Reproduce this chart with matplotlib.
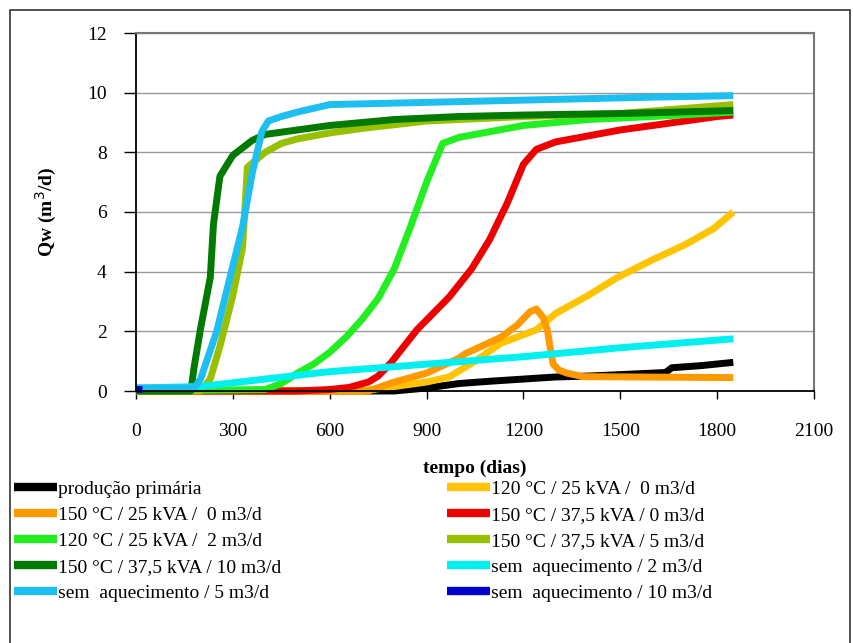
"""Qw vs tempo for heating scenarios."""

import matplotlib.pyplot as plt
from matplotlib.lines import Line2D
from matplotlib.patches import Rectangle

plt.rcParams["font.family"] = ["Liberation Serif", "DejaVu Serif"]

# %% data
t_prim = [0, 800, 850, 900, 1000, 1100, 1200, 1300, 1400, 1500, 1600, 1640, 1660, 1750, 1850]
q_prim = [0, 0, 0.05, 0.1, 0.25, 0.33, 0.4, 0.47, 0.5, 0.55, 0.6, 0.62, 0.78, 0.85, 0.96]

t_120_25_0 = [0, 700, 800, 900, 970, 1050, 1130, 1240, 1300, 1400, 1490, 1600, 1700, 1790, 1850]
q_120_25_0 = [0, 0, 0.15, 0.3, 0.47, 1.0, 1.6, 2.05, 2.6, 3.2, 3.8, 4.4, 4.9, 5.45, 6.0]

t_150_25_0 = [0, 720, 800, 900, 1000, 1020, 1130, 1180, 1220, 1240, 1262, 1275, 1282, 1292, 1310, 1335, 1385, 1850]
q_150_25_0 = [0, 0, 0.3, 0.6, 1.1, 1.25, 1.8, 2.2, 2.65, 2.75, 2.45, 2.0, 1.5, 0.9, 0.7, 0.6, 0.48, 0.45]

t_150_375_0 = [0, 500, 600, 660, 720, 750, 790, 870, 970, 1040, 1095, 1150, 1200, 1240, 1300, 1400, 1500, 1600, 1700, 1800, 1850]
q_150_375_0 = [0, 0, 0.05, 0.12, 0.3, 0.5, 0.95, 2.05, 3.15, 4.1, 5.07, 6.3, 7.6, 8.1, 8.35, 8.55, 8.75, 8.9, 9.05, 9.2, 9.25]

t_120_25_2 = [0, 400, 450, 500, 550, 600, 650, 700, 750, 800, 850, 900, 950, 1000, 1100, 1200, 1300, 1400, 1600, 1850]
q_120_25_2 = [0, 0.05, 0.25, 0.6, 0.9, 1.3, 1.8, 2.4, 3.1, 4.1, 5.5, 7.0, 8.3, 8.5, 8.7, 8.9, 9.0, 9.1, 9.2, 9.35]

t_150_375_5 = [0, 200, 230, 260, 300, 330, 340, 345, 400, 450, 500, 600, 700, 900, 1200, 1500, 1850]
q_150_375_5 = [0, 0, 0.4, 1.5, 3.2, 4.8, 6.6, 7.5, 8.0, 8.3, 8.45, 8.65, 8.8, 9.05, 9.2, 9.3, 9.6]

t_150_375_10 = [0, 170, 180, 200, 230, 240, 260, 300, 360, 400, 500, 600, 800, 1000, 1200, 1500, 1850]
q_150_375_10 = [0, 0, 0.8, 2.1, 3.8, 5.6, 7.2, 7.9, 8.4, 8.6, 8.75, 8.9, 9.1, 9.2, 9.25, 9.3, 9.4]

t_sem_2 = [0, 200, 400, 600, 900, 1200, 1500, 1850]
q_sem_2 = [0.1, 0.15, 0.4, 0.65, 0.9, 1.15, 1.45, 1.75]

t_sem_5 = [0, 180, 200, 250, 300, 330, 360, 390, 410, 450, 500, 600, 800, 1000, 1200, 1400, 1600, 1850]
q_sem_5 = [0.1, 0.1, 0.4, 2.0, 4.2, 5.5, 7.3, 8.7, 9.05, 9.2, 9.35, 9.6, 9.65, 9.7, 9.75, 9.8, 9.85, 9.9]

t_sem_10 = [0, 20]
q_sem_10 = [0.08, 0.08]

col1_labels = ["produção primária", "150 °C / 25 kVA /  0 m3/d", "120 °C / 25 kVA /  2 m3/d",
               "150 °C / 37,5 kVA / 10 m3/d", "sem  aquecimento / 5 m3/d"]
col2_labels = ["120 °C / 25 kVA /  0 m3/d", "150 °C / 37,5 kVA / 0 m3/d", "150 °C / 37,5 kVA / 5 m3/d",
               "sem  aquecimento / 2 m3/d", "sem  aquecimento / 10 m3/d"]
col1_colors = ["#000000", "#FF9900", "#22EE22", "#007A00", "#1EBEF0"]
col2_colors = ["#FFC400", "#EE0000", "#99C000", "#00F0F0", "#0000CC"]

# %% figure
fig = plt.figure(figsize=(8.54, 6.43), dpi=100)
fig.patches.append(Rectangle((10 / 854, -0.01), 840 / 854, 1 - 10 / 643 + 0.01,
                             transform=fig.transFigure, fill=False, edgecolor="#333333", lw=1.2))
ax = fig.add_axes([136 / 854, 1 - 391 / 643, (814 - 136) / 854, (391 - 33) / 643])

lw = 5
series = [
    (t_prim, q_prim, col1_colors[0]),
    (t_120_25_0, q_120_25_0, col2_colors[0]),
    (t_150_25_0, q_150_25_0, col1_colors[1]),
    (t_150_375_0, q_150_375_0, col2_colors[1]),
    (t_120_25_2, q_120_25_2, col1_colors[2]),
    (t_150_375_5, q_150_375_5, col2_colors[2]),
    (t_150_375_10, q_150_375_10, col1_colors[3]),
    (t_sem_2, q_sem_2, col2_colors[3]),
    (t_sem_5, q_sem_5, col1_colors[4]),
    (t_sem_10, q_sem_10, col2_colors[4]),
]
for t, q, c in series:
    ax.plot(t, q, color=c, lw=lw, solid_capstyle="butt", solid_joinstyle="round", clip_on=False)

ax.set_xlim(0, 2100)
ax.set_ylim(0, 12)
ax.set_xticks(range(0, 2101, 300))
ax.set_yticks(range(0, 13, 2))
ax.yaxis.grid(True, color="#999999", lw=1)
ax.set_axisbelow(True)
for s in ("top", "right"):
    ax.spines[s].set_color("#777777")
    ax.spines[s].set_linewidth(1.5)
for s in ("left", "bottom"):
    ax.spines[s].set_linewidth(1.3)
ax.tick_params(axis="y", length=9, width=1, pad=12, labelsize=14)
ax.tick_params(axis="x", length=6, width=1, pad=17, labelsize=14)
ax.set_xlabel("tempo (dias)", fontsize=14, fontweight="bold", labelpad=14)
ax.set_ylabel("Qw (m$^3$/d)", fontsize=14, fontweight="bold", labelpad=20)

# %% legend (two columns)
def make_handles(colors):
    return [Line2D([], [], color=c, lw=6, solid_capstyle="butt") for c in colors]

leg_kw = dict(frameon=False, fontsize=14, handlelength=2.2, handletextpad=0.05,
              labelspacing=0.44, borderaxespad=0, borderpad=0, loc="upper left")
fig.legend(make_handles(col1_colors), col1_labels, bbox_to_anchor=(14 / 854, 1 - 480 / 643), **leg_kw)
fig.legend(make_handles(col2_colors), col2_labels, bbox_to_anchor=(447 / 854, 1 - 480 / 643), **leg_kw)

fig.savefig("out.png", dpi=100)
